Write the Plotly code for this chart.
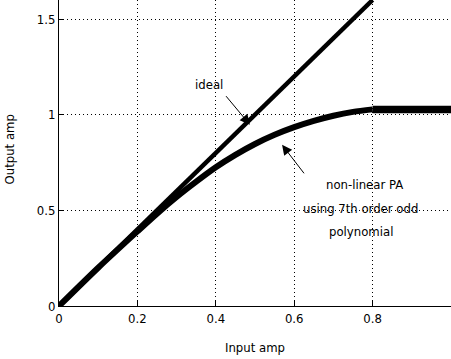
import plotly.graph_objects as go

# Data
ideal_x = [0.0, 0.8]
ideal_y = [0.0, 1.6]

pa_x = [0.0, 0.1, 0.2, 0.25, 0.3, 0.35, 0.4, 0.45, 0.5, 0.55, 0.6, 0.65, 0.7, 0.75, 0.8]
pa_y = [0.0, 0.2, 0.39, 0.483, 0.57, 0.65, 0.725, 0.79, 0.847, 0.895, 0.935, 0.968, 0.995, 1.015, 1.028]
flat_x = [0.8, 1.0]
flat_y = [1.028, 1.028]

x_ticks = [0, 0.2, 0.4, 0.6, 0.8]
x_labels = ["0", "0.2", "0.4", "0.6", "0.8"]
y_ticks = [0, 0.5, 1, 1.5]
y_labels = ["0", "0.5", "1", "1.5"]

FONT = "DejaVu Sans Condensed, Liberation Sans Narrow, Liberation Sans, Arial, sans-serif"

fig = go.Figure()
fig.add_trace(go.Scatter(x=ideal_x, y=ideal_y, mode="lines",
                         line=dict(color="black", width=4.5), showlegend=False))
fig.add_trace(go.Scatter(x=pa_x, y=pa_y, mode="lines", line_shape="spline",
                         line=dict(color="black", width=6, smoothing=0.8), showlegend=False))
fig.add_trace(go.Scatter(x=flat_x, y=flat_y, mode="lines",
                         line=dict(color="black", width=7.5), showlegend=False))

axis_common = dict(
    showgrid=True, gridcolor="black", griddash="1px,3px", gridwidth=1,
    showline=True, linecolor="black", linewidth=1,
    ticks="inside", ticklen=5, tickcolor="black",
    tickfont=dict(family=FONT, size=13, color="black"),
    zeroline=False, mirror=False,
)

fig.update_layout(
    width=451, height=359,
    margin=dict(l=59, r=0, t=0, b=53),
    plot_bgcolor="white", paper_bgcolor="white",
    xaxis=dict(range=[0, 1.0], tickvals=x_ticks, ticktext=x_labels, **axis_common),
    yaxis=dict(range=[0, 1.6], tickvals=y_ticks, ticktext=y_labels, **axis_common),
    font=dict(family=FONT, color="black"),
)

annotations = [
    dict(x=0.5, y=-0.137, xref="paper", yref="paper", text="Input amp", yshift=-9,
         showarrow=False, font=dict(size=13)),
    dict(x=-0.125, y=0.51, xref="paper", yref="paper", text="Output amp", xshift=-10,
         showarrow=False, textangle=-90, font=dict(size=13)),
    # ideal arrow
    dict(x=0.487, y=0.948, ax=0.423, ay=1.105, xref="x", yref="y", axref="x", ayref="y",
         text="", showarrow=True, arrowhead=2, arrowsize=2, arrowwidth=1, arrowcolor="black"),
    dict(x=0.383, y=1.157, xref="x", yref="y", text="ideal", showarrow=False,
         font=dict(size=13)),
    # non-linear arrow
    dict(x=0.569, y=0.843, ax=0.628, ay=0.686, xref="x", yref="y", axref="x", ayref="y",
         text="", showarrow=True, arrowhead=2, arrowsize=2, arrowwidth=1, arrowcolor="black"),
    dict(x=0.78, y=(306 - 185) / 191, xref="x", yref="y", text="non-linear PA",
         showarrow=False, font=dict(size=13)),
    dict(x=0.77, y=(306 - 209) / 191, xref="x", yref="y", text="using 7th order odd",
         showarrow=False, font=dict(size=13)),
    dict(x=0.77, y=(306 - 232) / 191, xref="x", yref="y", text="polynomial",
         showarrow=False, font=dict(size=13)),
]
fig.update_layout(annotations=annotations)

fig.write_html("out.html")
